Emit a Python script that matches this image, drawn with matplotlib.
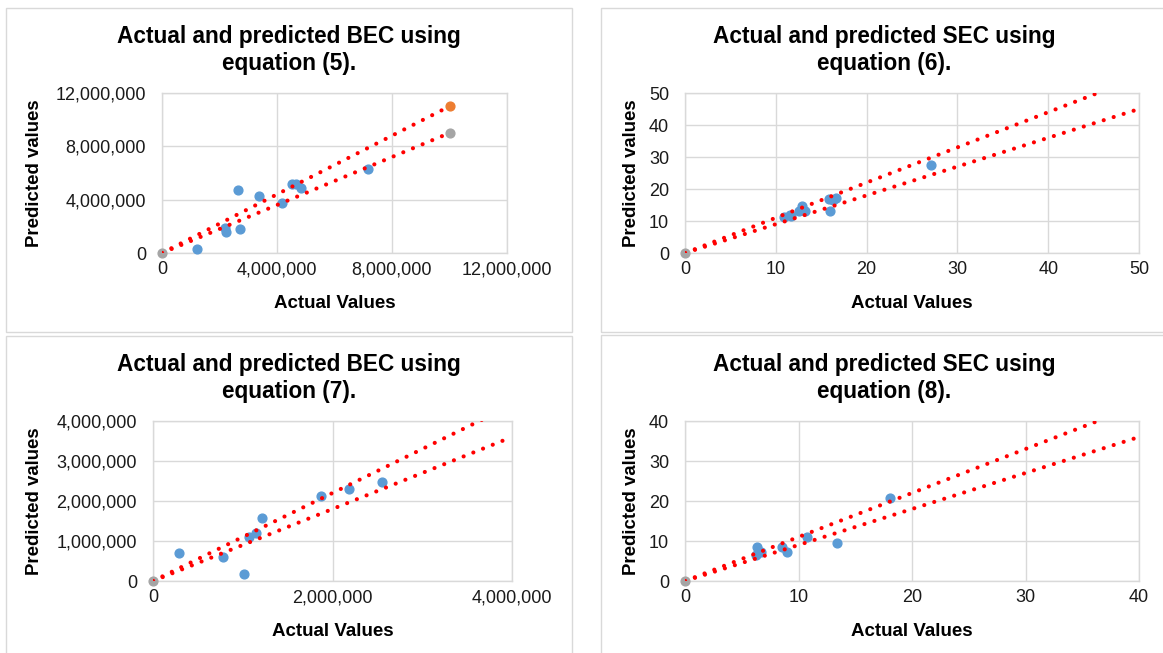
import matplotlib
matplotlib.use("Agg")
import matplotlib.pyplot as plt
from matplotlib.patches import Rectangle
from matplotlib.ticker import FuncFormatter

plt.rcParams['font.family'] = ['Liberation Sans', 'DejaVu Sans']

W, H = 1163, 653

# panel titles
titles = ["Actual and predicted BEC using\nequation (5).",
          "Actual and predicted SEC using\nequation (6).",
          "Actual and predicted BEC using\nequation (7).",
          "Actual and predicted SEC using\nequation (8)."]

# actual / predicted values (blue points)
bec5_actual = [1.2e6, 2.2e6, 2.23e6, 2.71e6, 2.64e6, 3.39e6, 4.17e6, 4.51e6, 4.65e6, 4.83e6, 7.18e6]
bec5_pred = [0.3e6, 1.85e6, 1.6e6, 1.8e6, 4.7e6, 4.3e6, 3.73e6, 5.15e6, 5.18e6, 4.88e6, 6.3e6]

sec6_actual = [10.9, 11.6, 11.7, 12.5, 12.9, 13.2, 16.0, 15.9, 16.6, 16.3, 27.1]
sec6_pred = [11.1, 12.0, 11.5, 13.0, 14.6, 13.2, 13.2, 17.0, 17.2, 16.7, 27.6]

bec7_actual = [0.285e6, 0.78e6, 1.015e6, 1.074e6, 1.15e6, 1.21e6, 1.87e6, 2.18e6, 2.556e6]
bec7_pred = [0.69e6, 0.59e6, 0.175e6, 1.09e6, 1.19e6, 1.575e6, 2.12e6, 2.31e6, 2.47e6]

sec8_actual = [6.31, 6.23, 6.67, 8.52, 8.96, 10.72, 13.36, 18.06]
sec8_pred = [8.58, 6.5, 7.3, 8.58, 7.17, 11.0, 9.4, 20.8]

# reference points (gray = lower bound, orange = upper bound)
gray_x = [[0, 10e6], [0], [0], [0]]
gray_y = [[0, 9e6], [0], [0], [0]]
orange_x = [[10e6], [], [], []]
orange_y = [[11e6], [], [], []]

# +/-10% trendlines
upper_slope = 1.1
lower_slope = 0.9
line_end = [10e6, 50, 4e6, 40]

axis_max = [12e6, 50, 4e6, 40]
xticks = [[0, 4e6, 8e6, 12e6], [0, 10, 20, 30, 40, 50],
          [0, 2e6, 4e6], [0, 10, 20, 30, 40]]
yticks = [[0, 4e6, 8e6, 12e6], [0, 10, 20, 30, 40, 50],
          [0, 1e6, 2e6, 3e6, 4e6], [0, 10, 20, 30, 40]]

actuals = [bec5_actual, sec6_actual, bec7_actual, sec8_actual]
preds = [bec5_pred, sec6_pred, bec7_pred, sec8_pred]

# layout in pixels: axes (left, top, right, bottom), box, title centre, labels
axes_px = [(162, 93, 507, 253), (685, 93, 1139, 253),
           (153, 421, 512, 581), (685, 421, 1139, 581)]
boxes_px = [(6, 8, 572, 332), (601, 8, 1168, 332),
            (6, 336, 572, 660), (601, 335, 1168, 660)]
title_y = [50, 50, 378, 378]
xlabel_y = [304, 304, 631, 631]
ylabel_x = [35, 632, 35, 632]

comma = FuncFormatter(lambda v, p: f"{v:,.0f}")

fig = plt.figure(figsize=(W / 100, H / 100), dpi=100)

for i in range(4):
    bx0, by0, bx1, by1 = boxes_px[i]
    fig.patches.append(Rectangle((bx0 / W, 1 - by1 / H), (bx1 - bx0) / W, (by1 - by0) / H,
                                 transform=fig.transFigure, fill=False,
                                 edgecolor='#d9d9d9', lw=1))

    l, t, r, b = axes_px[i]
    ax = fig.add_axes([l / W, 1 - b / H, (r - l) / W, (b - t) / H])

    ax.scatter(actuals[i], preds[i], s=40, color='#5B9BD5', zorder=3, clip_on=False)
    ax.scatter(gray_x[i], gray_y[i], s=40, color='#A5A5A5', zorder=3, clip_on=False)
    if orange_x[i]:
        ax.scatter(orange_x[i], orange_y[i], s=40, color='#ED7D31', zorder=3, clip_on=False)

    xe = line_end[i]
    for slope in (upper_slope, lower_slope):
        ax.plot([0, xe], [0, slope * xe], color='red', lw=3.0,
                linestyle=(0, (0.01, 2.5)), dash_capstyle='round', zorder=4)

    ax.set_xlim(0, axis_max[i])
    ax.set_ylim(0, axis_max[i])
    ax.set_xticks(xticks[i])
    ax.set_yticks(yticks[i])
    if i in (0, 2):
        ax.xaxis.set_major_formatter(comma)
        ax.yaxis.set_major_formatter(comma)
    ax.tick_params(length=0, labelsize=13, labelcolor='#1a1a1a')
    ax.tick_params(axis='x', pad=6)
    ax.tick_params(axis='y', pad=11.5)
    ax.grid(True, color='#d9d9d9', lw=1)
    ax.set_axisbelow(True)
    for sp in ax.spines.values():
        sp.set_color('#d9d9d9')
        sp.set_linewidth(1)

    fig.text((bx0 + bx1) / 2 / W, 1 - title_y[i] / H, titles[i], ha='center', va='center',
             fontsize=16.3, fontweight='bold', linespacing=1.25)
    fig.text((l + r) / 2 / W, 1 - xlabel_y[i] / H, "Actual Values", ha='center', va='center',
             fontsize=13.5, fontweight='bold')
    fig.text(ylabel_x[i] / W, 1 - (t + b) / 2 / H, "Predicted values", ha='center', va='center',
             fontsize=13.4, fontweight='bold', rotation=90)

fig.savefig("out.png", dpi=100)
